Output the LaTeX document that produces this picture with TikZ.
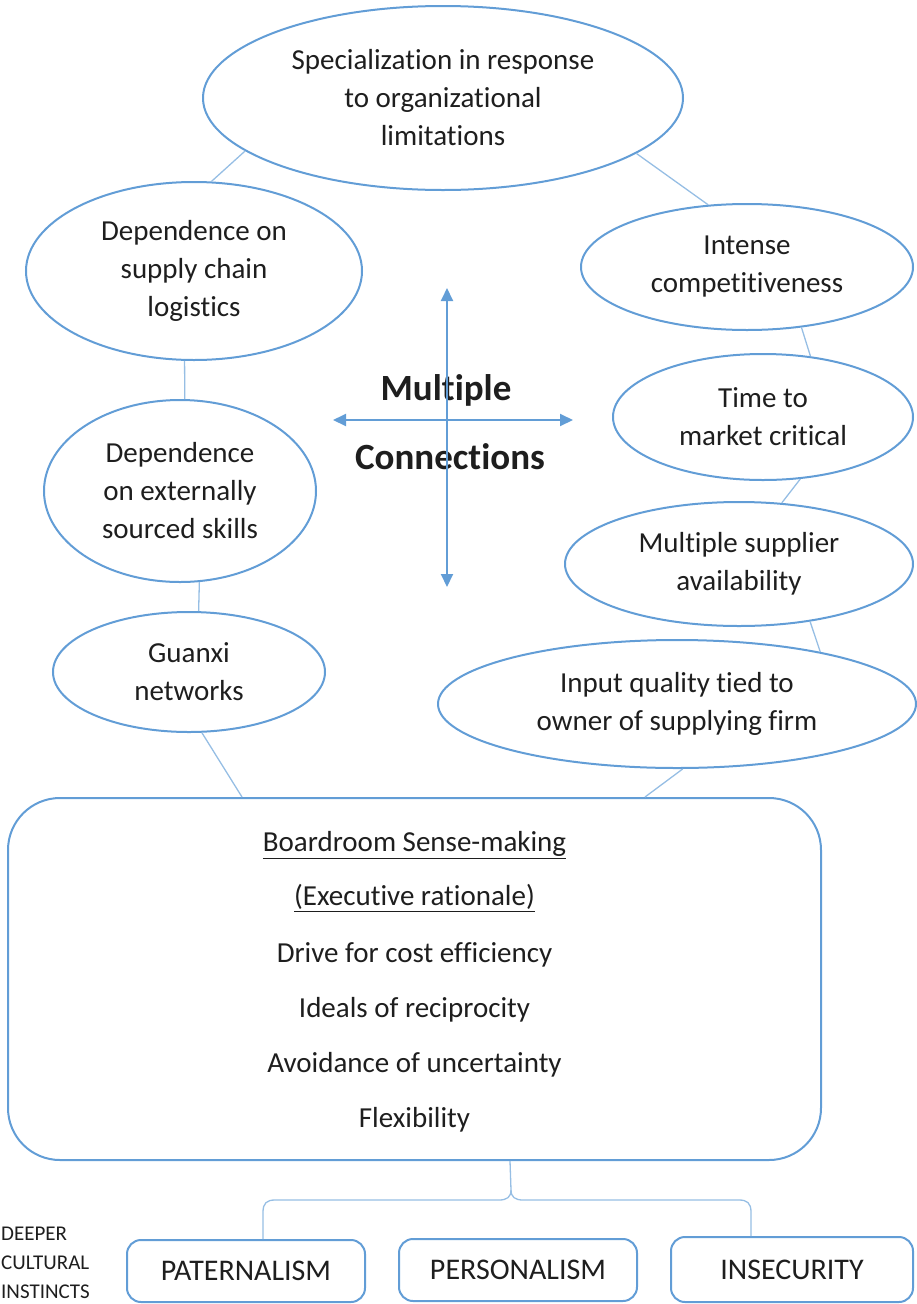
\documentclass[tikz,border=0pt]{standalone}
\usepackage{fontspec}
\setmainfont{Carlito}[Ligatures=NoCommon]
\usetikzlibrary{shapes.geometric,arrows.meta,calc}
\definecolor{eblue}{RGB}{98,157,214}
\definecolor{cblue}{RGB}{150,190,228}
\definecolor{ink}{RGB}{30,30,30}
\newcommand{\mainf}{\fontsize{29}{38}\selectfont}
\newcommand{\boldf}{\fontsize{37}{44}\selectfont\bfseries}
\newcommand{\smallf}{\fontsize{21}{30}\selectfont}
\begin{document}
\begin{tikzpicture}[x=1pt,y=-1pt,
  ell/.style={ellipse, draw=eblue, line width=2pt, inner sep=0pt, align=center, font=\mainf, text=ink},
  conn/.style={draw=cblue, line width=1.3pt},
  txt/.style={font=\mainf, text=ink, inner sep=0pt},
  cult/.style={draw=eblue, line width=2pt, rounded corners=14pt, font=\fontsize{30}{36}\selectfont, text=ink, inner sep=0pt},
  biarrow/.style={draw=eblue, line width=2pt, {Triangle[length=13pt,width=12pt]}-{Triangle[length=13pt,width=12pt]}}
]
\useasboundingbox (0,0) rectangle (917,1304);

% ellipses
\node[ell, minimum width=480pt, minimum height=184pt] (top) at (443,98) {Specialization in response\\to organizational\\limitations};
\node[ell, minimum width=336pt, minimum height=178pt] (supply) at (194,271) {Dependence on\\supply chain\\logistics};
\node[ell, minimum width=272pt, minimum height=182pt] (extern) at (180,491) {Dependence\\on externally\\sourced skills};
\node[ell, minimum width=272pt, minimum height=120pt] (guanxi) at (189,672) {Guanxi\\networks};
\node[ell, minimum width=332pt, minimum height=126pt] (intense) at (747,267) {Intense\\competitiveness};
\node[ell, minimum width=300pt, minimum height=126pt] (time) at (763,417) {Time to\\market critical};
\node[ell, minimum width=348pt, minimum height=124pt] (multi) at (739,564) {Multiple supplier\\availability};
\node[ell, minimum width=478pt, minimum height=128pt] (input) at (677,704) {Input quality tied to\\owner of supplying firm};

% main box
\node[draw=eblue, line width=2pt, rounded corners=52pt, minimum width=813pt, minimum height=362pt, inner sep=0pt] (box) at (414.5,979) {};
\node[txt] (b1) at (414.5,845) {\underline{Boardroom Sense-making}};
\node[txt] (b2) at (414.5,898) {\underline{(Executive rationale)}};
\node[txt] (b3) at (414.5,955) {Drive for cost efficiency};
\node[txt] (b4) at (414.5,1010) {Ideals of reciprocity};
\node[txt] (b5) at (414.5,1065) {Avoidance of uncertainty};
\node[txt] (b6) at (414.5,1120) {Flexibility};

% bottom boxes
\node[cult, minimum width=238pt, minimum height=62pt] (pat) at (246,1271) {PATERNALISM};
\node[cult, minimum width=238pt, minimum height=62pt] (per) at (518,1270) {PERSONALISM};
\node[cult, minimum width=242pt, minimum height=65pt] (ins) at (792,1269.5) {INSECURITY};

% left label
\node[font=\smallf, text=ink, anchor=west, inner sep=0pt] (l1) at (1,1234) {DEEPER};
\node[font=\smallf, text=ink, anchor=west, inner sep=0pt] (l2) at (1,1263) {CULTURAL};
\node[font=\smallf, text=ink, anchor=west, inner sep=0pt] (l3) at (1,1292) {INSTINCTS};

% Multiple connections
\node[font=\boldf, text=ink, inner sep=0pt] (mc1) at (446,390) {Multiple};
\node[font=\boldf, text=ink, inner sep=0pt] (mc2) at (450,457) {Connections};
\coordinate (au) at (447,288);
\coordinate (ad) at (447,587);
\coordinate (al) at (333,420);
\coordinate (ar) at (573,420);
\draw[biarrow] (au) -- (ad);
\draw[biarrow] (al) -- (ar);

% connectors
\draw[conn] (top.195) -- (supply.79);
\draw[conn] (top.344) -- (intense.122);
\draw[conn] (supply.264) -- (extern.87);
\draw[conn] (extern.282) -- (guanxi.81);
\draw[conn] (guanxi.282) -- ($(box.north west)+(235,0)$);
\draw[conn] (intense.312) -- (time.52);
\draw[conn] (time.301) -- (multi.55);
\draw[conn] (multi.321) -- (input.20);
\draw[conn] (input.275) -- ($(box.north west)+(638,0)$);

% brace
\coordinate (bt) at ($(box.south west)+(503,0)$);
\coordinate (bm) at (511,1190);
\coordinate (blh) at (263,1200);
\coordinate (brh) at (751,1200);
\draw[conn] (bt) -- (bm) .. controls (511,1197) and (507,1200) .. (499,1200) -- (275,1200) .. controls (267,1200) and (263,1203) .. (263,1212) -- (blh |- pat.north);
\draw[conn] (bm) .. controls (511,1197) and (515,1200) .. (523,1200) -- (739,1200) .. controls (747,1200) and (751,1203) .. (751,1212) -- (brh |- ins.north);
\end{tikzpicture}
\end{document}
